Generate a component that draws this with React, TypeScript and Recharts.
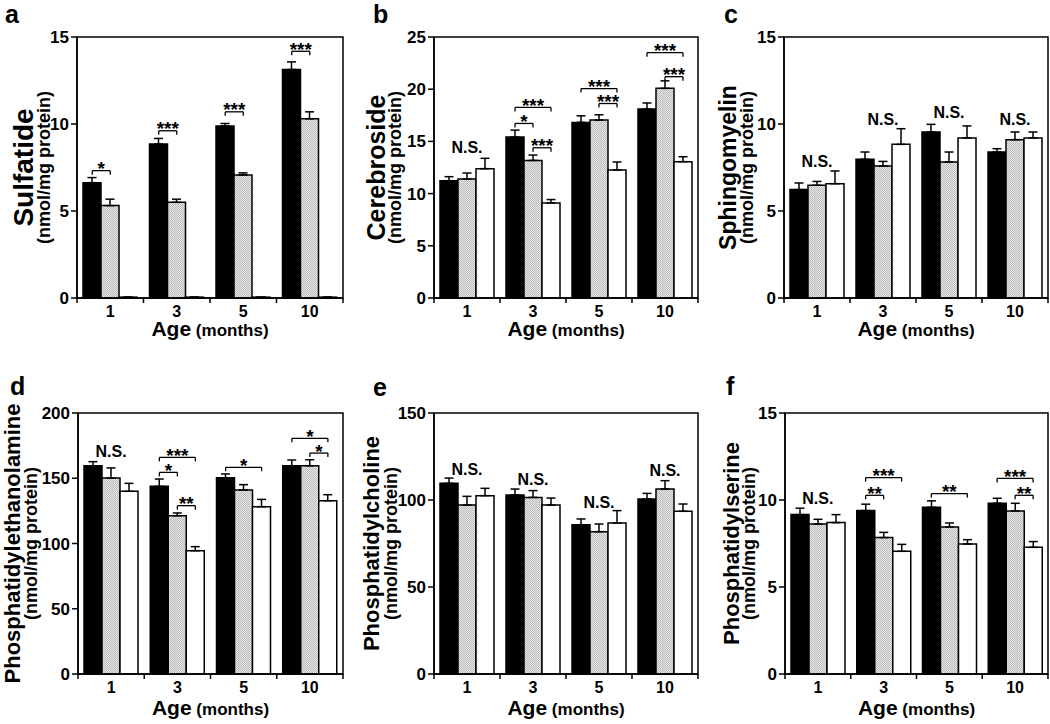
import React from "react";
import { BarChart, Bar, XAxis, YAxis, ErrorBar, ReferenceLine, ReferenceDot, ReferenceArea } from "recharts";

const ages = ["1", "3", "5", "10"];

// each row is one age: [black, hatched, white]
const sulfatideMeans = [[6.63, 5.31, 0.05], [8.85, 5.5, 0.05], [9.88, 7.07, 0.05], [13.13, 10.3, 0.05]];
const sulfatideErrors = [[0.29, 0.37, 0], [0.32, 0.18, 0], [0.15, 0.12, 0], [0.44, 0.4, 0]];
// [age index, from bar, to bar, y, mark]
const sulfatideBrackets = [[0, 0, 1, 7.32, "*"], [1, 0, 1, 9.61, "***"], [2, 0, 1, 10.7, "***"], [3, 0, 1, 14.18, "***"]];
const sulfatideNS = [];

const cerebrosideMeans = [[11.24, 11.4, 12.39], [15.41, 13.18, 9.11], [16.82, 17.04, 12.26], [18.1, 20.08, 13.06]];
const cerebrosideErrors = [[0.38, 0.57, 0.99], [0.67, 0.51, 0.32], [0.63, 0.51, 0.77], [0.58, 0.72, 0.47]];
const cerebrosideBrackets = [
  [1, 0, 1, 16.72, "*"], [1, 0, 2, 18.25, "***"], [1, 1, 2, 14.39, "***"],
  [2, 0, 2, 20.06, "***"], [2, 1, 2, 18.63, "***"],
  [3, 0, 2, 23.5, "***"], [3, 1, 2, 21.2, "***"],
];
const cerebrosideNS = [[0, 14.5]];

const sphingomyelinMeans = [[6.23, 6.48, 6.57], [7.97, 7.59, 8.83], [9.54, 7.82, 9.2], [8.39, 9.1, 9.2]];
const sphingomyelinErrors = [[0.38, 0.22, 0.73], [0.42, 0.26, 0.9], [0.44, 0.57, 0.69], [0.19, 0.44, 0.34]];
const sphingomyelinBrackets = [];
const sphingomyelinNS = [[0, 7.9], [1, 10.3], [2, 10.7], [3, 10.3]];

const peMeans = [[159.6, 150.2, 140], [143.8, 121.3, 94.5], [150.4, 141, 128.2], [159.6, 159.6, 132.8]];
const peErrors = [[3.1, 7.7, 6.1], [5.6, 2.1, 3.1], [2.9, 4.1, 5.6], [4.4, 4.6, 4.6]];
const peBrackets = [
  [1, 0, 2, 166, "***"], [1, 0, 1, 154.5, "*"], [1, 1, 2, 129, "**"],
  [2, 0, 2, 158.4, "*"],
  [3, 0, 2, 180.6, "*"], [3, 1, 2, 169.3, "*"],
];
const peNS = [[0, 171]];

const pcMeans = [[109.6, 97.1, 102.5], [102.9, 101.5, 97.1], [85.8, 81.8, 86.8], [100.6, 106.3, 93.5]];
const pcErrors = [[3.0, 5.0, 4.2], [3.4, 3.9, 4.0], [3.3, 4.4, 7.1], [3.2, 4.8, 4.2]];
const pcBrackets = [];
const pcNS = [[0, 118], [1, 112], [2, 99], [3, 117.4]];

const psMeans = [[9.16, 8.62, 8.7], [9.39, 7.84, 7.05], [9.58, 8.45, 7.47], [9.81, 9.37, 7.28]];
const psErrors = [[0.37, 0.27, 0.46], [0.37, 0.3, 0.4], [0.37, 0.23, 0.25], [0.29, 0.44, 0.33]];
const psBrackets = [
  [1, 0, 2, 11.29, "***"], [1, 0, 1, 10.27, "**"],
  [2, 0, 2, 10.37, "**"],
  [3, 0, 2, 11.24, "***"], [3, 1, 2, 10.27, "**"],
];
const psNS = [[0, 10.1]];

const FONT = "'Liberation Sans', Arial, Helvetica, sans-serif";
const W = 350;
const H = 362;
const PLOT_H = 261;
const BAR = 18;
const X_AXIS_H = 30;
const xTicks = [0, 0.5, 1, 1.5, 2, 2.5, 3, 3.5, 4];

const panels = [
  { letter: "a", lx: 5, ly: 23, left: 0, top: 0, plotLeft: 77, plotRight: 343, plotTop: 37, title: "Sulfatide", titleSize: 28, titleX: 23, subX: 44, ymax: 15, ticks: [0, 5, 10, 15], ageDy: 38, means: sulfatideMeans, errors: sulfatideErrors, brackets: sulfatideBrackets, ns: sulfatideNS },
  { letter: "b", lx: 373, ly: 23, left: 350, top: 0, plotLeft: 84, plotRight: 348, plotTop: 37, title: "Cerebroside", titleSize: 25, titleX: 26, subX: 45, ymax: 25, ticks: [0, 5, 10, 15, 20, 25], ageDy: 38, means: cerebrosideMeans, errors: cerebrosideErrors, brackets: cerebrosideBrackets, ns: cerebrosideNS },
  { letter: "c", lx: 724, ly: 23, left: 700, top: 0, plotLeft: 84, plotRight: 348, plotTop: 37, title: "Sphingomyelin", titleSize: 23, titleX: 28, subX: 47, ymax: 15, ticks: [0, 5, 10, 15], ageDy: 38, means: sphingomyelinMeans, errors: sphingomyelinErrors, brackets: sphingomyelinBrackets, ns: sphingomyelinNS },
  { letter: "d", lx: 10, ly: 395, left: 0, top: 362, plotLeft: 78, plotRight: 343, plotTop: 51, title: "Phosphatidylethanolamine", titleSize: 22, titleX: 12, subX: 31, ymax: 200, ticks: [0, 50, 100, 150, 200], ageDy: 41, means: peMeans, errors: peErrors, brackets: peBrackets, ns: peNS },
  { letter: "e", lx: 373, ly: 396, left: 350, top: 362, plotLeft: 84, plotRight: 348, plotTop: 51, title: "Phosphatidylcholine", titleSize: 22, titleX: 21, subX: 41, ymax: 150, ticks: [0, 50, 100, 150], ageDy: 41, means: pcMeans, errors: pcErrors, brackets: pcBrackets, ns: pcNS },
  { letter: "f", lx: 726, ly: 395, left: 700, top: 362, plotLeft: 85, plotRight: 348, plotTop: 51, title: "Phosphatidylserine", titleSize: 22, titleX: 31, subX: 49, ymax: 15, ticks: [0, 5, 10, 15], ageDy: 41, means: psMeans, errors: psErrors, brackets: psBrackets, ns: psNS },
];

const AgeTick = (props: any) => {
  const { x, y, payload } = props;
  const v = payload.value;
  if (Number.isInteger(v)) {
    return <line x1={x} y1={y} x2={x} y2={y + 5} stroke="#000" strokeWidth={1.5} />;
  }
  return (
    <text x={x} y={y + 19} textAnchor="middle" fontSize={16} fontWeight="bold" fill="#000">
      {ages[Math.floor(v)]}
    </text>
  );
};

const markLabel = (text: string, size: number, dy: number) => (lp: any) => {
  const vb = lp.viewBox || {};
  const cx = (vb.x ?? 0) + (vb.width ?? 0) / 2;
  const cy = (vb.y ?? 0) + (vb.height ?? 0) / 2;
  return (
    <text x={cx} y={cy + dy} textAnchor="middle" fontSize={size} fontWeight="bold" fill="#000" fontFamily={FONT}>
      {text}
    </text>
  );
};

function Panel({ cfg }: { cfg: any }) {
  const plotW = cfg.plotRight - cfg.plotLeft;
  const barOff = BAR / (plotW / 4);
  const leg = (4 * cfg.ymax) / PLOT_H;
  const data = ages.map((a, i) => ({
    x: i + 0.5,
    age: a,
    black: cfg.means[i][0],
    gray: cfg.means[i][1],
    white: cfg.means[i][2],
    blackErr: [0, cfg.errors[i][0]],
    grayErr: [0, cfg.errors[i][1]],
    whiteErr: [0, cfg.errors[i][2]],
  }));
  const cy = cfg.plotTop + PLOT_H / 2;

  const yTitle = () => (
    <g>
      <text transform={`translate(${cfg.titleX},${cy}) rotate(-90)`} textAnchor="middle" dominantBaseline="central" fontSize={cfg.titleSize} fontWeight="bold" fill="#000" fontFamily={FONT}>
        {cfg.title}
      </text>
      <text transform={`translate(${cfg.subX},${cy}) rotate(-90)`} textAnchor="middle" dominantBaseline="central" fontSize={18} fontWeight="bold" fill="#000" fontFamily={FONT}>
        (nmol/mg protein)
      </text>
    </g>
  );

  const xTitle = () => (
    <text x={cfg.plotLeft + plotW / 2} y={cfg.plotTop + PLOT_H + cfg.ageDy} textAnchor="middle" fontWeight="bold" fill="#000" fontFamily={FONT}>
      <tspan fontSize={21}>Age</tspan>
      <tspan fontSize={17}> (months)</tspan>
    </text>
  );

  return (
    <div style={{ position: "absolute", left: cfg.left, top: cfg.top, fontFamily: FONT }}>
      <BarChart
        width={W}
        height={H}
        data={data}
        barGap={0}
        barSize={BAR}
        margin={{ top: cfg.plotTop, right: W - cfg.plotRight, bottom: H - cfg.plotTop - PLOT_H - X_AXIS_H, left: 0 }}
      >
        <XAxis
          type="number"
          dataKey="x"
          domain={[0, 4]}
          ticks={xTicks}
          interval={0}
          height={X_AXIS_H}
          tickLine={false}
          tickSize={0}
          tickMargin={0}
          tick={AgeTick}
          axisLine={{ stroke: "#000", strokeWidth: 1.5 }}
          label={{ content: xTitle }}
        />
        <YAxis
          type="number"
          domain={[0, cfg.ymax]}
          ticks={cfg.ticks}
          interval={0}
          width={cfg.plotLeft}
          tickSize={6}
          tickMargin={2}
          tickLine={{ stroke: "#000", strokeWidth: 1.5 }}
          axisLine={{ stroke: "#000", strokeWidth: 1.5 }}
          tick={{ fontSize: 17, fontWeight: "bold", fill: "#000", fontFamily: FONT }}
          label={{ content: yTitle }}
        />
        <ReferenceArea x1={0} x2={4} y1={0} y2={cfg.ymax} fill="none" fillOpacity={0} stroke="#000" strokeWidth={1.5} ifOverflow="visible" />
        <Bar dataKey="black" fill="#000" stroke="#000" strokeWidth={1.5} isAnimationActive={false}>
          <ErrorBar dataKey="blackErr" direction="y" width={4.5} stroke="#000" strokeWidth={1.5} />
        </Bar>
        <Bar dataKey="gray" fill="url(#hatch)" stroke="#000" strokeWidth={1.5} isAnimationActive={false}>
          <ErrorBar dataKey="grayErr" direction="y" width={4.5} stroke="#000" strokeWidth={1.5} />
        </Bar>
        <Bar dataKey="white" fill="#fff" stroke="#000" strokeWidth={1.5} isAnimationActive={false}>
          <ErrorBar dataKey="whiteErr" direction="y" width={4.5} stroke="#000" strokeWidth={1.5} />
        </Bar>
        {cfg.brackets.map((b: any, k: number) => {
          const [g, from, to, y, mark] = b;
          const x1 = g + 0.5 + (from - 1) * barOff;
          const x2 = g + 0.5 + (to - 1) * barOff;
          return (
            <React.Fragment key={`br-${k}`}>
              <ReferenceLine segment={[{ x: x1, y }, { x: x2, y }]} stroke="#000" strokeWidth={1.3} ifOverflow="visible" />
              <ReferenceLine segment={[{ x: x1, y }, { x: x1, y: y - leg }]} stroke="#000" strokeWidth={1.3} ifOverflow="visible" />
              <ReferenceLine segment={[{ x: x2, y }, { x: x2, y: y - leg }]} stroke="#000" strokeWidth={1.3} ifOverflow="visible" />
              <ReferenceDot x={(x1 + x2) / 2} y={y} r={0} fill="none" stroke="none" ifOverflow="visible" label={{ content: markLabel(mark, 19, 4.5) }} />
            </React.Fragment>
          );
        })}
        {cfg.ns.map((n: any, k: number) => (
          <ReferenceDot key={`ns-${k}`} x={n[0] + 0.5} y={n[1]} r={0} fill="none" stroke="none" ifOverflow="visible" label={{ content: markLabel("N.S.", 16, 6) }} />
        ))}
      </BarChart>
    </div>
  );
}

export default function App() {
  return (
    <div style={{ position: "absolute", left: 0, top: 0, width: 1050, height: 724, background: "#fff", fontFamily: FONT }}>
      {panels.map((p) => (
        <Panel key={p.letter} cfg={p} />
      ))}
      <svg width={1050} height={724} style={{ position: "absolute", left: 0, top: 0, pointerEvents: "none" }}>
        <defs>
          <pattern id="hatch" width={2} height={2} patternUnits="userSpaceOnUse">
            <rect width={2} height={2} fill="#e8e8e8" />
            <rect width={1} height={1} fill="#bababa" />
            <rect x={1} y={1} width={1} height={1} fill="#bababa" />
          </pattern>
        </defs>
        {panels.map((p) => (
          <text key={p.letter} x={p.lx} y={p.ly} fontSize={25} fontWeight="bold" fill="#000" fontFamily={FONT}>
            {p.letter}
          </text>
        ))}
      </svg>
    </div>
  );
}
